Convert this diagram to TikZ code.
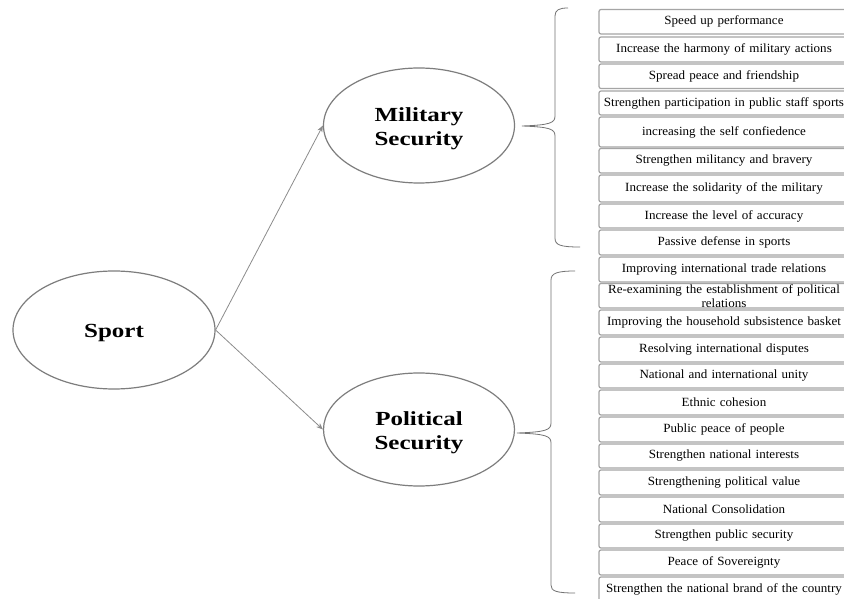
\documentclass[tikz,border=0pt]{standalone}
\usepackage{fontspec}
\setmainfont{Liberation Serif}
\newfontfamily\ellfont[FakeStretch=1.25]{Liberation Serif}
\newfontfamily\itemfont[FakeStretch=1.04]{Liberation Serif}
\usetikzlibrary{arrows.meta,shapes.geometric}
\definecolor{ellgray}{RGB}{125,125,125}
\definecolor{arrgray}{RGB}{140,140,140}
\definecolor{bracegray}{RGB}{115,115,115}
\definecolor{boxgray}{RGB}{165,165,165}
\tikzset{
  ell/.style={ellipse, draw=ellgray, line width=0.9pt, inner sep=0pt},
  elltext/.style={inner sep=0pt, align=center,
    font=\ellfont\bfseries\fontsize{15}{17.5}\selectfont},
  arr/.style={draw=arrgray, line width=0.6pt, -{Stealth[length=5pt,width=4pt]}},
  brace/.style={draw=bracegray, line width=0.6pt},
  itembox/.style={rectangle, rounded corners=1.5pt, draw=boxgray, line width=0.9pt,
    text width=183pt, inner xsep=2.25pt, inner ysep=0pt, align=center,
    font=\itemfont\fontsize{9.4}{10.5}\selectfont}
}
\begin{document}
\begin{tikzpicture}[x=0.75pt,y=-0.75pt]
\useasboundingbox (0,0) rectangle (844,599);
\clip (0,0) rectangle (844,599);
\fill[white] (0,0) rectangle (844,599);

\node[ell, minimum width=151.5pt, minimum height=88.5pt] (sport) at (114,330) {};
\node[ell, minimum width=143.25pt, minimum height=86.25pt] (mil) at (419,125.5) {};
\node[ell, minimum width=143.25pt, minimum height=84.75pt] (pol) at (419,429.5) {};
\node[elltext] (sporttext) at ([yshift=-2.5pt]sport.center) {Sport};
\node[elltext] (miltext) at ([yshift=-2.5pt]mil.center) {Military\\Security};
\node[elltext] (poltext) at ([yshift=-2.5pt]pol.center) {Political\\Security};

\draw[arr] (sport.east) -- (mil.west);
\draw[arr] (sport.east) -- (pol.west);

% braces
\draw[brace] (568,8) .. controls (559,8) and (555,10) .. (555,16) -- (555,116)
  .. controls (555,123) and (550,125) .. (522,126)
  .. controls (550,127) and (555,129) .. (555,136) -- (555,238)
  .. controls (555,245) and (560,247) .. (580,247);
\draw[brace] (575,271) .. controls (558,271) and (551,273) .. (551,280) -- (551,423)
  .. controls (551,430) and (546,432) .. (517,433)
  .. controls (546,434) and (551,436) .. (551,443) -- (551,585)
  .. controls (551,591) and (556,593) .. (575,593);

% item boxes
\foreach \t/\b/\txt [count=\i] in {
  9.5/34/{Speed up performance},
  37/62/{Increase the harmony of military actions},
  64/88.5/{Spread peace and friendship},
  91/115/{\mbox{Strengthen participation in public staff sports}},
  117/147/{increasing the self confiedence},
  148.5/173/{Strengthen militancy and bravery},
  175/202/{Increase the solidarity of the military},
  204/228/{Increase the level of accuracy},
  230/255/{Passive defense in sports},
  257/282/{Improving international trade relations},
  283.5/308/{\mbox{Re-examining the establishment of political}\\relations},
  310/335/{\mbox{Improving the household subsistence basket}},
  337/362/{Resolving international disputes},
  364/388/{National and international unity},
  390/415/{Ethnic cohesion},
  417/442/{Public peace of people},
  444/468/{Strengthen national interests},
  470/495/{Strengthening political value},
  497/522/{National Consolidation},
  524/548/{Strengthen public security},
  550/575/{Peace of Sovereignty},
  577/602/{\mbox{Strengthen the national brand of the country}}} {
  \pgfmathsetmacro\h{(\b-\t)*0.75}
  \pgfmathsetmacro\c{(\t+\b)/2}
  \node[itembox, minimum height=\h pt] (it\i) at (724,\c) {\txt};
}
\end{tikzpicture}
\end{document}
